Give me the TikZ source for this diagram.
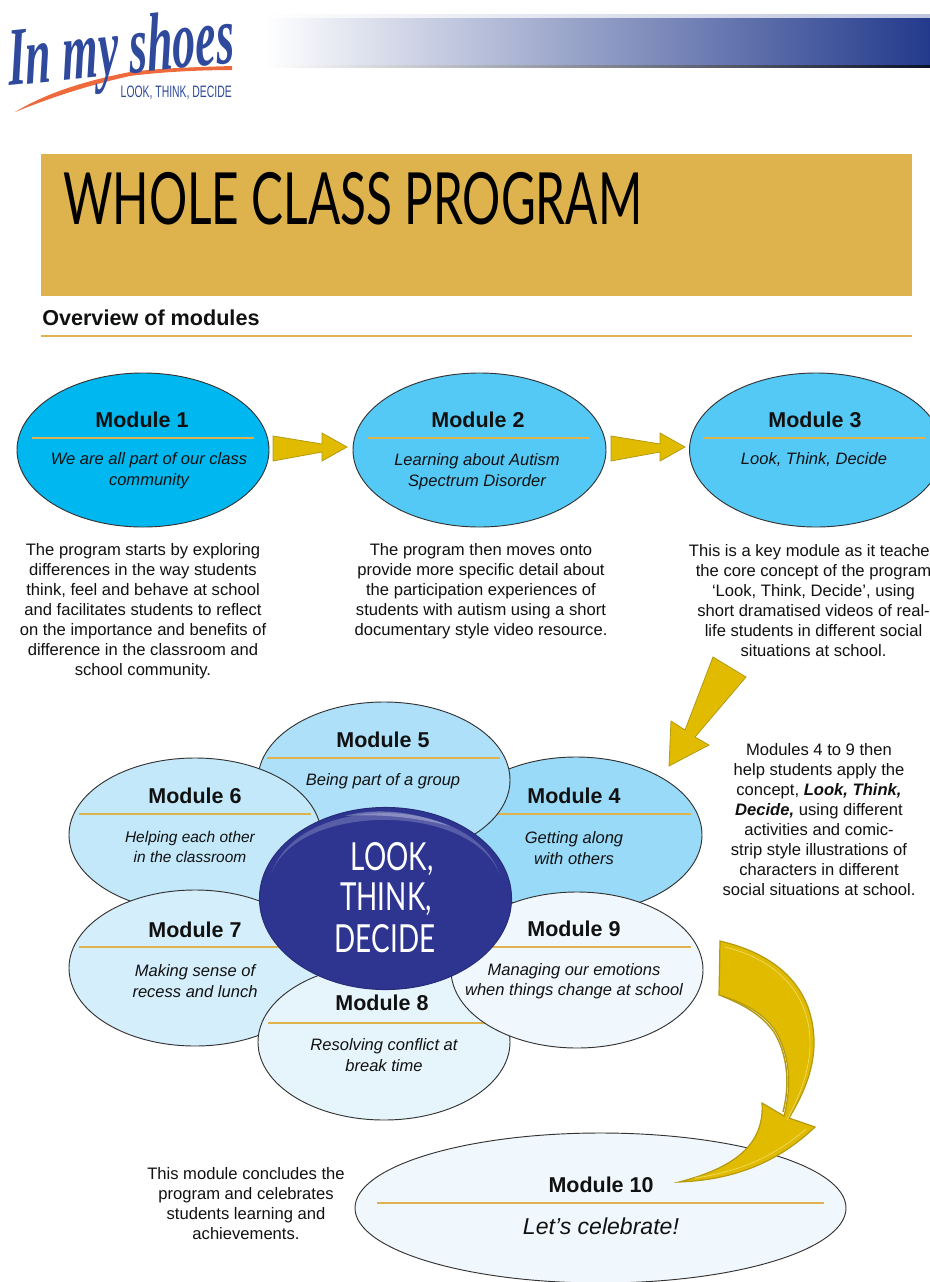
\documentclass[tikz,border=0pt]{standalone}
\usepackage{fontspec}
\setmainfont{Liberation Sans}
\newfontfamily\disp{Lato}
\newfontfamily\logofont{Liberation Serif}
\usetikzlibrary{shapes.geometric,calc}
\definecolor{gold}{HTML}{DEB34E}
\definecolor{arrowgold}{HTML}{E0BB00}
\definecolor{arrowedge}{HTML}{B59A10}
\definecolor{arrowlight}{HTML}{EDD75A}
\definecolor{deepblue}{HTML}{2E3591}
\definecolor{barblue}{HTML}{233A8C}
\definecolor{logoblue}{HTML}{2F4A9C}
\definecolor{logoorange}{HTML}{EE6A3C}
\definecolor{mA}{HTML}{00B7EF}
\definecolor{mB}{HTML}{55C9F6}
\definecolor{mD}{HTML}{98DAF7}
\definecolor{mE}{HTML}{AEE1F9}
\definecolor{mF}{HTML}{C2E8FA}
\definecolor{mG}{HTML}{D5EEFB}
\definecolor{mH}{HTML}{E6F5FC}
\definecolor{mI}{HTML}{F1F8FD}
\definecolor{ink}{HTML}{111111}
\tikzset{
 x=0.75pt,y=-0.75pt,
 modell/.style={ellipse,draw=black!80,line width=0.7pt,inner sep=0pt},
 modtitle/.style={font=\bfseries\fontsize{16.1}{18}\selectfont,inner sep=0pt,text=ink},
 moddesc/.style={font=\itshape\fontsize{12.4}{15.4}\selectfont,align=center,inner sep=0pt,text=ink},
 bodytext/.style={font=\fontsize{12.45}{15}\selectfont,align=center,inner sep=0pt,text=ink},
 goldrule/.style={draw=gold,line width=0.8pt},
 blockarrow/.style={fill=arrowgold,draw=arrowedge,line width=0.6pt,line join=miter},
 hubtext/.style={font=\disp\fontsize{29}{30}\selectfont,text=white,inner sep=0pt,xscale=0.72},
}
% name, x, y, width, height, fill
\newcommand\modoval[6]{\node[modell,fill=#6,minimum width=#4*0.75pt,minimum height=#5*0.75pt] (#1) at (#2,#3) {};}
\begin{document}
\begin{tikzpicture}
\useasboundingbox (0,0) rectangle (930,1282);
\fill[white] (0,0) rectangle (930,1282);
% header bar
\shade[left color=white,right color=barblue] (265,14) rectangle (930,67);
\shade[left color=white,right color=white!70!barblue] (265,14) rectangle (930,17);
\shade[left color=white,right color=black!70!barblue] (265,65.5) rectangle (930,67);
% logo
\fill[logoorange] (15,112) .. controls (45,94) and (80,82) .. (130,72) .. controls (160,68) and (200,67) .. (232,66) -- (232,70) .. controls (200,70) and (160,72) .. (130,76) .. controls (85,86) and (50,98) .. (15,112) -- cycle;
\node[font=\logofont\bfseries\itshape\fontsize{62}{62}\selectfont,text=logoblue,inner sep=0pt,anchor=base west,rotate=6,xscale=0.555,xslant=0.12] (logo) at (9,86) {In my shoes};
\node[font=\fontsize{12.4}{13}\selectfont,text=logoblue,inner sep=0pt,anchor=base east,xscale=0.63] (logosub) at (232,97) {LOOK, THINK, DECIDE};
% banner
\fill[gold] (41,154) rectangle (912,296);
\node[font=\disp\fontsize{54}{54}\selectfont,inner sep=0pt,anchor=base west,xscale=0.663] (title) at (63,224) {WHOLE CLASS PROGRAM};
\node[font=\bfseries\fontsize{16.2}{18}\selectfont,inner sep=0pt,anchor=base west,text=ink] (overview) at (42,325) {Overview of modules};
\draw[goldrule] (41,336) -- (912,336);
% top row
\modoval{m1}{143}{450}{252}{154}{mA}
\modoval{m2}{479.5}{450}{253}{154}{mB}
\modoval{m3}{816}{450}{253}{154}{mB}
\draw[goldrule] (32,438) -- (254,438) (368,438) -- (590,438) (703,438) -- (925,438);
\node[modtitle] (m1t) at (142,420) {Module 1};
\node[modtitle] (m2t) at (478,420) {Module 2};
\node[modtitle] (m3t) at (815,420) {Module 3};
\node[moddesc] (m1d) at (149,470.5) {We are all part of our class\\community};
\node[moddesc] (m2d) at (477,471.5) {Learning about Autism\\Spectrum Disorder};
\node[moddesc] (m3d) at (814,460) {Look, Think, Decide};
\draw[blockarrow] (273,436) -- (322,444) -- (322,433) -- (347,447) -- (322,461) -- (322,452) -- (273,461) -- cycle;
\draw[blockarrow] (611,436) -- (660,444) -- (660,433) -- (685,447) -- (660,461) -- (660,452) -- (611,461) -- cycle;
% descriptions
\node[bodytext] (b1) at (143,611) {The program starts by exploring\\differences in the way students\\think, feel and behave at school\\and facilitates students to reflect\\on the importance and benefits of\\difference in the classroom and\\school community.};
\node[bodytext] (b2) at (481,591.5) {The program then moves onto\\provide more specific detail about\\the participation experiences of\\students with autism using a short\\documentary style video resource.};
\node[bodytext] (b3) at (813.5,601) {This is a key module as it teaches\\the core concept of the program\\‘Look, Think, Decide’, using\\short dramatised videos of real-\\life students in different social\\situations at school.};
\draw[blockarrow] (713,657) -- (746,677) -- (695,737) -- (709,745) -- (669,766) -- (671,721) -- (685,730) -- cycle;
\node[bodytext] (b4) at (819,820) {Modules 4 to 9 then\\help students apply the\\concept, \textbf{\textit{Look, Think,}}\\\textbf{\textit{Decide,}} using different\\activities and comic-\\strip style illustrations of\\characters in different\\social situations at school.};
% flower: each oval carries its own rule, so that later ovals cover it
\modoval{m4}{576}{835}{252}{156}{mD}
\draw[goldrule] (470,814) -- (691,814);
\modoval{m5}{384}{780}{252}{156}{mE}
\draw[goldrule] (267,758) -- (500,758);
\modoval{m6}{195}{835}{252}{154}{mF}
\draw[goldrule] (79,814) -- (311,814);
\modoval{m7}{195}{968}{252}{156}{mG}
\draw[goldrule] (79,947) -- (311,947);
\modoval{m8}{384}{1042}{252}{156}{mH}
\draw[goldrule] (268,1023) -- (500,1023);
\modoval{m9}{577}{970}{252}{156}{mI}
\draw[goldrule] (462,947) -- (691,947);
\node[modtitle] (m4t) at (574,796) {Module 4};
\node[modtitle] (m5t) at (383,740) {Module 5};
\node[modtitle] (m6t) at (195,796) {Module 6};
\node[modtitle] (m7t) at (195,930) {Module 7};
\node[modtitle] (m8t) at (382,1003) {Module 8};
\node[modtitle] (m9t) at (574,929) {Module 9};
\node[moddesc] (m4d) at (574,848) {Getting along\\with others};
\node[moddesc] (m5d) at (383,781) {Being part of a group};
\node[moddesc,font=\itshape\fontsize{11.6}{15.4}\selectfont] (m6d) at (190,847) {Helping each other\\in the classroom};
\node[moddesc] (m7d) at (195,981) {Making sense of\\recess and lunch};
\node[moddesc] (m8d) at (384,1055) {Resolving conflict at\\break time};
\node[moddesc] (m9d) at (574,981) {Managing our emotions\\when things change at school};
% hub
\node[ellipse,fill=deepblue,draw=deepblue!85!black,line width=0.8pt,inner sep=0pt,minimum width=252*0.75pt,minimum height=182*0.75pt] (hub) at (385.5,898.5) {};
\fill[white,opacity=.2] (272,872) .. controls (300,793) and (472,793) .. (500,875) .. controls (472,802) and (300,802) .. (272,872) -- cycle;
\fill[white,opacity=.3] (345,816) .. controls (375,808) and (410,810) .. (450,826) .. controls (410,816) and (375,814) .. (345,816) -- cycle;
\node[hubtext] (hub1) at (392,859) {LOOK,};
\node[hubtext] (hub2) at (386,899) {THINK,};
\node[hubtext] (hub3) at (385,939) {DECIDE};
% module 10
\modoval{m10}{600.5}{1208}{491}{150}{mI}
\draw[goldrule] (377,1203) -- (824,1203);
\node[modtitle] (m10t) at (601,1185) {Module 10};
\node[font=\itshape\fontsize{17.3}{20}\selectfont,inner sep=0pt,text=ink] (m10d) at (601,1226) {Let’s celebrate!};
\node[bodytext] (b10) at (246,1204) {This module concludes the\\program and celebrates\\students learning and\\achievements.};
% curved arrow
\draw[blockarrow,line width=0.9pt] (720,941) .. controls (780,955) and (814,990) .. (814,1043) .. controls (814,1070) and (803,1095) .. (789,1118) -- (815,1127) .. controls (775,1165) and (730,1180) .. (679,1182) .. controls (725,1170) and (765,1150) .. (762,1103) -- (784,1116) .. controls (792,1085) and (790,1055) .. (775,1030) .. controls (762,1012) and (742,1002) .. (719,995) -- cycle;
\draw[arrowlight,line width=0.6pt] (725,947) .. controls (778,960) and (810,995) .. (810,1043) .. controls (810,1070) and (800,1095) .. (787,1120);
\draw[arrowlight,line width=0.6pt] (806,1129) .. controls (770,1160) and (735,1172) .. (695,1178);
\draw[arrowedge,line width=1.1pt] (783,1112) .. controls (790,1085) and (788,1055) .. (774,1032) .. controls (761,1014) and (742,1004) .. (722,996);
\end{tikzpicture}
\end{document}
